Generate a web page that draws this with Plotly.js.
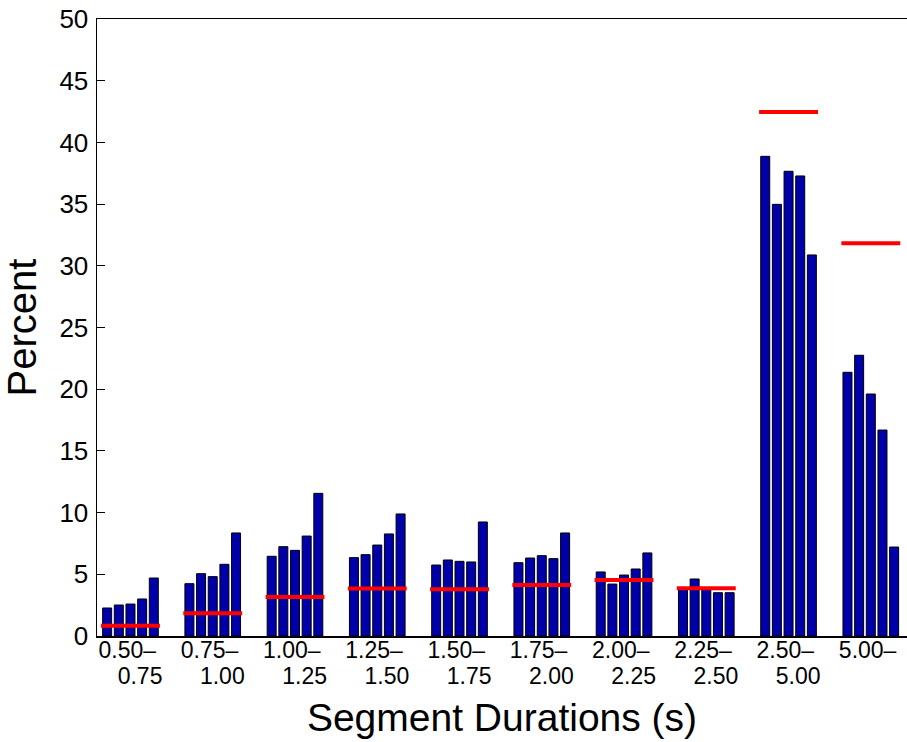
<!DOCTYPE html>
<html>
<head>
<meta charset="utf-8">
<script src="https://cdn.plot.ly/plotly-3.0.1.min.js"></script>
<style>
  html, body { margin: 0; padding: 0; background: #fff; }
  #chart { width: 907px; height: 742px; }
</style>
</head>
<body>
<div id="chart"></div>
<script>
// Duration bins (start / end of each bin)
const binStart = ['0.50', '0.75', '1.00', '1.25', '1.50', '1.75', '2.00', '2.25', '2.50', '5.00'];
const binEnd   = ['0.75', '1.00', '1.25', '1.50', '1.75', '2.00', '2.25', '2.50', '5.00', ''];

// Percent of segments per bin, one array per data set
const set1 = [2.27, 4.24, 6.46, 6.35, 5.75, 5.94, 5.19, 3.78, 38.87, 21.37];
const set2 = [2.51, 5.05, 7.24, 6.59, 6.16, 6.32, 4.21, 4.62, 34.98, 22.75];
const set3 = [2.59, 4.81, 6.94, 7.37, 6.05, 6.51, 4.94, 3.78, 37.66, 19.61];
const set4 = [3.00, 5.81, 8.10, 8.27, 6.00, 6.27, 5.43, 3.51, 37.28, 16.69];
const set5 = [4.70, 8.35, 11.56, 9.89, 9.24, 8.35, 6.73, 3.51, 30.88, 7.21];

// Reference distribution, drawn as a red bar across each group
const reference = [0.83, 1.84, 3.16, 3.84, 3.78, 4.13, 4.54, 3.86, 42.46, 31.82];

const sets = [set1, set2, set3, set4, set5];
const pos = binStart.map((_, i) => i + 1);
const NB = '\u00a0';
// first label line: "start–", second line: "end", slightly indented
const tickTop = binStart.map(s => s + '\u2013' + NB);
const tickBottom = binEnd.map(s => s ? NB + NB + NB + s : s);

const FONT = 'Liberation Sans, Arial, Helvetica, sans-serif';
const X_RANGE = [0.593, 10.44];

const traces = sets.map((vals, k) => ({
  type: 'bar',
  x: pos,
  y: vals,
  name: 'set ' + (k + 1),
  marker: { color: '#0000aa', line: { color: '#000000', width: 1 } },
  hoverinfo: 'x+y'
}));

// Red reference segments spanning each group (on the overlaid x2 axis,
// which shares the x scale and carries the second label line)
const halfW = 0.358;
const rx = [], ry = [];
pos.forEach((p, i) => {
  rx.push(p - halfW, p + halfW, null);
  ry.push(reference[i], reference[i], null);
});
traces.push({
  type: 'scatter',
  mode: 'lines',
  x: rx,
  y: ry,
  xaxis: 'x2',
  yaxis: 'y',
  name: 'reference',
  line: { color: '#ff0000', width: 4 },
  hoverinfo: 'y'
});

const tickFont = { family: FONT, size: 23, color: '#000000' };

const layout = {
  width: 907,
  height: 742,
  margin: { l: 97, r: 0, t: 19, b: 106 },
  paper_bgcolor: '#ffffff',
  plot_bgcolor: '#ffffff',
  showlegend: false,
  barmode: 'group',
  bargap: 0.291,
  bargroupgap: 0.229,
  font: { family: FONT, color: '#000000' },
  xaxis: {
    range: X_RANGE,
    tickmode: 'array',
    tickvals: pos,
    ticktext: tickTop,
    ticks: '',
    tickfont: tickFont,
    ticklabelstandoff: -7,
    showgrid: false,
    zeroline: false,
    showline: true,
    mirror: true,
    linecolor: '#000000',
    linewidth: 1.5,
    title: { text: 'Segment Durations (s)', font: { family: FONT, size: 39, color: '#000000' }, standoff: 41 }
  },
  xaxis2: {
    overlaying: 'x',
    matches: 'x',
    anchor: 'y',
    side: 'bottom',
    range: X_RANGE,
    tickmode: 'array',
    tickvals: pos,
    ticktext: tickBottom,
    ticks: '',
    tickfont: tickFont,
    ticklabelstandoff: 24,
    showgrid: false,
    zeroline: false,
    showline: false
  },
  yaxis: {
    range: [0, 50],
    tickmode: 'linear',
    tick0: 0,
    dtick: 5,
    ticks: 'inside',
    ticklen: 8,
    tickwidth: 1,
    tickcolor: '#000000',
    tickfont: { family: FONT, size: 26, color: '#000000' },
    ticklabelstandoff: 2,
    showgrid: false,
    zeroline: false,
    showline: true,
    linecolor: '#000000',
    linewidth: 1.5,
    title: { text: 'Percent', font: { family: FONT, size: 40, color: '#000000' }, standoff: 10 }
  }
};

Plotly.newPlot('chart', traces, layout, { displayModeBar: false, staticPlot: true });
</script>
</body>
</html>
